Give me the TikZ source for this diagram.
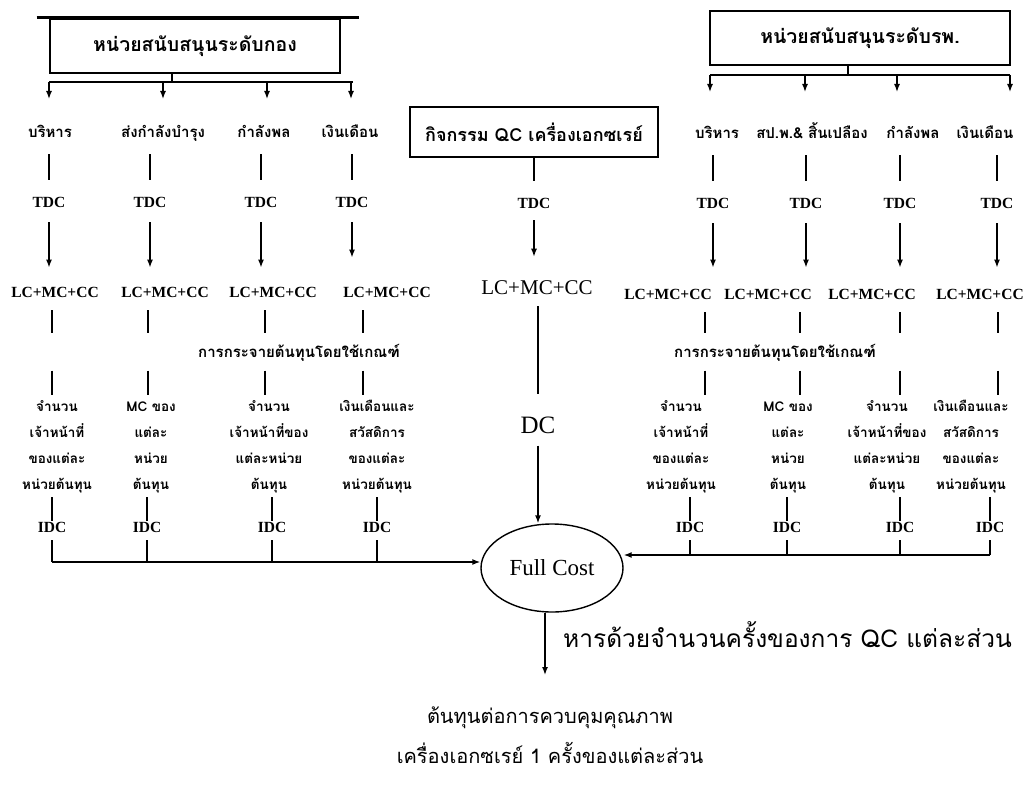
\documentclass[tikz,border=0pt]{standalone}
\usepackage{fontspec}
\setmainfont{Liberation Serif}
\newfontfamily\thaifont[Script=Thai]{Loma}
\usetikzlibrary{arrows.meta,shapes.geometric,calc}
\begin{document}
\begin{tikzpicture}[x=1pt,y=-1pt,
  th/.style={font=\thaifont\bfseries\fontsize{15}{17}\selectfont, inner sep=1pt, anchor=base},
  thbox/.style={draw, line width=2.8pt, font=\thaifont\bfseries\fontsize{19.5}{22}\selectfont, inner sep=0pt},
  thmulti/.style={font=\thaifont\bfseries\fontsize{13.5}{26}\selectfont, inner sep=0pt, anchor=base},
  thdist/.style={font=\thaifont\bfseries\fontsize{15}{17}\selectfont, inner sep=1pt, anchor=base},
  thplain/.style={font=\thaifont\fontsize{20}{40}\selectfont, inner sep=0pt, anchor=base},
  lab/.style={font=\bfseries\fontsize{15.5}{17}\selectfont, inner sep=1pt},
  labbig/.style={font=\fontsize{21}{24}\selectfont, inner sep=1pt},
  ln/.style={line width=1.4pt},
  arr/.style={line width=1.4pt, -{Latex[length=8pt,width=6pt]}},
  thickbar/.style={line width=2.8pt},
]
\useasboundingbox (0,0) rectangle (1030,789);

% ---------------- left group ----------------
\node[thbox, minimum width=290, minimum height=54] (boxL) at (195,46) {หน่วยสนับสนุนระดับกอง};
\draw[thickbar] ($(boxL.north west)+(-12,0)$) -- ($(boxL.north east)+(18,0)$);
\coordinate (brL) at (172,82);
\coordinate (brLa) at (49,82);
\coordinate (brLb) at (353,82);
\draw[ln] (boxL.south -| brL) -- (brL);
\draw[ln] (brLa) -- (brLb);
\coordinate (aL1) at (49,99);
\coordinate (aL2) at (163,99);
\coordinate (aL3) at (267,99);
\coordinate (aL4) at (351,99);
\foreach \i in {1,2,3,4} {\draw[arr] (brL -| aL\i) -- (aL\i);}

\node[th] (L1) at (50,138) {บริหาร};
\node[th] (L2) at (163,138) {ส่งกำลังบำรุง};
\node[th] (L3) at (264,138) {กำลังพล};
\node[th] (L4) at (350,138) {เงินเดือน};

\node[lab] (T1) at (49,202) {TDC};
\node[lab] (T2) at (150,202) {TDC};
\node[lab] (T3) at (261,202) {TDC};
\node[lab] (T4) at (352,202) {TDC};

\node[lab] (C1) at (55,292) {LC+MC+CC};
\node[lab] (C2) at (165,292) {LC+MC+CC};
\node[lab] (C3) at (273,292) {LC+MC+CC};
\node[lab] (C4) at (387,292) {LC+MC+CC};

\foreach \i in {1,2,3,4} {
  \draw[ln, shorten <=16pt, shorten >=16pt] (L\i.base -| T\i) -- (T\i.north);
}
\foreach \i in {1,2,3} {\draw[arr, shorten <=14pt, shorten >=18pt] (T\i.south) -- (T\i.south |- C\i.north);}
\draw[arr, shorten <=14pt, shorten >=28pt] (T4.south) -- (T4.south |- C4.north);

\node[thdist] (distL) at (299,357) {การกระจายต้นทุนโดยใช้เกณฑ์};
\coordinate (d1) at (52,352);
\coordinate (d2) at (148,352);
\coordinate (d3) at (265,352);
\coordinate (d4) at (363,352);

\node[thmulti] (M1) at (57,411) {\begin{tabular}[t]{@{}c@{}}จำนวน\\เจ้าหน้าที่\\ของแต่ละ\\หน่วยต้นทุน\end{tabular}};
\node[thmulti] (M2) at (151,411) {\begin{tabular}[t]{@{}c@{}}MC ของ\\แต่ละ\\หน่วย\\ต้นทุน\end{tabular}};
\node[thmulti] (M3) at (269,411) {\begin{tabular}[t]{@{}c@{}}จำนวน\\เจ้าหน้าที่ของ\\แต่ละหน่วย\\ต้นทุน\end{tabular}};
\node[thmulti] (M4) at (377,411) {\begin{tabular}[t]{@{}c@{}}เงินเดือนและ\\สวัสดิการ\\ของแต่ละ\\หน่วยต้นทุน\end{tabular}};

\foreach \i in {1,2,3,4} {
  \draw[ln, shorten <=12pt, shorten >=24pt] (C\i.south -| d\i) -- (distL.base -| d\i);
  \draw[ln, shorten <=13.5pt, shorten >=16pt] (distL.base -| d\i) -- (M\i.base -| d\i);
}

\node[lab] (I1) at (52,527) {IDC};
\node[lab] (I2) at (147,527) {IDC};
\node[lab] (I3) at (272,527) {IDC};
\node[lab] (I4) at (377,527) {IDC};
\coordinate (hL) at (0,562);
\foreach \i in {1,2,3,4} {
  \draw[ln] (M\i.south -| I\i) -- (I\i.north);
  \draw[ln, shorten <=7pt] (I\i.south) -- (I\i |- hL);
}

% ---------------- centre ----------------
\node[thbox, font=\thaifont\bfseries\fontsize{18}{20}\selectfont, minimum width=248, minimum height=50] (QC) at (534,132) {กิจกรรม QC เครื่องเอกซเรย์};
\node[lab] (T0) at (534,203) {TDC};
\node[labbig] (C0) at (537,288) {LC+MC+CC};
\node[labbig, font=\fontsize{25}{28}\selectfont] (DC) at (538,425) {DC};
\node[draw, ellipse, line width=1.4pt, minimum width=142, minimum height=88, font=\fontsize{23}{26}\selectfont, inner sep=1pt] (FC) at (552,568) {Full Cost};

\draw[ln, shorten >=16pt] (QC.south) -- (T0.north);
\draw[arr, shorten <=11pt, shorten >=23pt] (T0.south) -- (T0.south |- C0.north);
\draw[ln, shorten <=10pt, shorten >=21pt] (C0.south -| DC) -- (DC.north);
\draw[arr, shorten <=11pt] (DC.south) -- (FC.north -| DC);

\draw[arr] (I1 |- hL) -- (FC.west |- hL);

\coordinate (fcEnd) at (545,675);
\draw[arr] (FC.south -| fcEnd) -- (fcEnd);
\node[thplain, font=\thaifont\fontsize{24.5}{28}\selectfont, anchor=base west] (div) at (563,647) {หารด้วยจำนวนครั้งของการ QC แต่ละส่วน};
\node[thplain] (res) at (550,723) {\begin{tabular}[t]{@{}c@{}}ต้นทุนต่อการควบคุมคุณภาพ\\เครื่องเอกซเรย์ 1 ครั้งของแต่ละส่วน\end{tabular}};

% ---------------- right group ----------------
\node[thbox, minimum width=300, minimum height=54] (boxR) at (860,38) {หน่วยสนับสนุนระดับรพ.};
\coordinate (brR) at (848,75);
\coordinate (brRa) at (710,75);
\coordinate (brRb) at (1010,75);
\draw[ln] (boxR.south -| brR) -- (brR);
\draw[ln] (brRa) -- (brRb);
\coordinate (aR1) at (710,92);
\coordinate (aR2) at (805,92);
\coordinate (aR3) at (897,92);
\coordinate (aR4) at (1010,92);
\foreach \i in {1,2,3,4} {\draw[arr] (brR -| aR\i) -- (aR\i);}

\node[th] (R1) at (717,139) {บริหาร};
\node[th] (R2) at (812,139) {สป.พ.\& สิ้นเปลือง};
\node[th] (R3) at (913,139) {กำลังพล};
\node[th] (R4) at (985,139) {เงินเดือน};

\node[lab] (RT1) at (713,203) {TDC};
\node[lab] (RT2) at (806,203) {TDC};
\node[lab] (RT3) at (900,203) {TDC};
\node[lab] (RT4) at (997,203) {TDC};

\node[lab] (RC1) at (668,294) {LC+MC+CC};
\node[lab] (RC2) at (768,294) {LC+MC+CC};
\node[lab] (RC3) at (872,294) {LC+MC+CC};
\node[lab] (RC4) at (980,294) {LC+MC+CC};

\foreach \i in {1,2,3,4} {
  \draw[ln, shorten <=16pt, shorten >=16pt] (R\i.base -| RT\i) -- (RT\i.north);
  \draw[arr, shorten <=14pt, shorten >=20pt] (RT\i.south) -- (RT\i.south |- RC\i.north);
}

\node[thdist] (distR) at (775,357) {การกระจายต้นทุนโดยใช้เกณฑ์};
\coordinate (e1) at (705,352);
\coordinate (e2) at (800,352);
\coordinate (e3) at (900,352);
\coordinate (e4) at (998,352);

\node[thmulti] (RM1) at (681,411) {\begin{tabular}[t]{@{}c@{}}จำนวน\\เจ้าหน้าที่\\ของแต่ละ\\หน่วยต้นทุน\end{tabular}};
\node[thmulti] (RM2) at (788,411) {\begin{tabular}[t]{@{}c@{}}MC ของ\\แต่ละ\\หน่วย\\ต้นทุน\end{tabular}};
\node[thmulti] (RM3) at (887,411) {\begin{tabular}[t]{@{}c@{}}จำนวน\\เจ้าหน้าที่ของ\\แต่ละหน่วย\\ต้นทุน\end{tabular}};
\node[thmulti] (RM4) at (971,411) {\begin{tabular}[t]{@{}c@{}}เงินเดือนและ\\สวัสดิการ\\ของแต่ละ\\หน่วยต้นทุน\end{tabular}};

\foreach \i in {1,2,3,4} {
  \draw[ln, shorten <=12pt, shorten >=24pt] (RC\i.south -| e\i) -- (distR.base -| e\i);
  \draw[ln, shorten <=13.5pt, shorten >=16pt] (distR.base -| e\i) -- (RM\i.base -| e\i);
}

\node[lab] (RI1) at (690,527) {IDC};
\node[lab] (RI2) at (787,527) {IDC};
\node[lab] (RI3) at (900,527) {IDC};
\node[lab] (RI4) at (990,527) {IDC};
\coordinate (hR) at (0,555);
\foreach \i in {1,2,3,4} {
  \draw[ln] (RM\i.south -| RI\i) -- (RI\i.north);
  \draw[ln, shorten <=7pt] (RI\i.south) -- (RI\i |- hR);
}
\draw[arr] (RI4 |- hR) -- (FC.east |- hR);

\end{tikzpicture}
\end{document}
